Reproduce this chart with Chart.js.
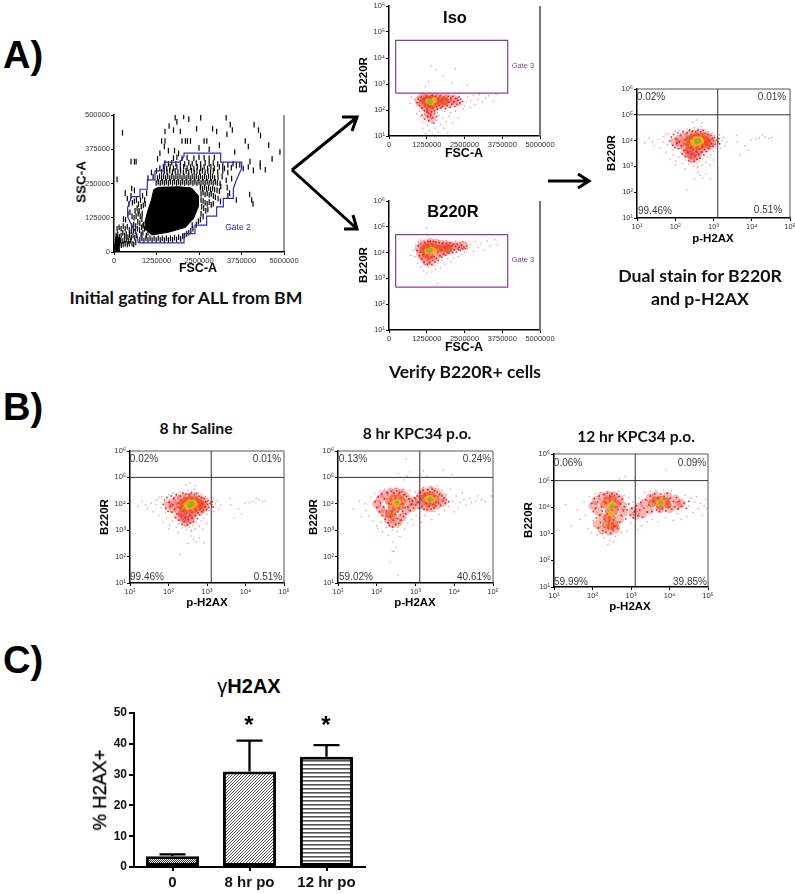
<!DOCTYPE html>
<html><head><meta charset="utf-8">
<script src="https://cdn.jsdelivr.net/npm/chart.js@4"></script>
<style>
html,body{margin:0;padding:0;background:#fff;overflow:hidden}
#page{position:relative;width:795px;height:894px;overflow:hidden;background:#fff}
canvas{position:absolute;filter:blur(.35px)}
.t{position:absolute;white-space:nowrap;transform:translate(-50%,-50%);color:#000;font-family:"Liberation Sans",Arial,sans-serif}
.b{font-weight:bold}
.cap{font-family:Lato,"Open Sans",sans-serif;font-weight:bold;color:#111}
.pct{font-size:10px;color:#3a3a3a}
.v{transform:translate(-50%,-50%) rotate(-90deg)}
svg{position:absolute;left:0;top:0}
</style></head><body><div id="page"></div>
<script>
/* ---------- bar chart values ---------- */
const barCategories=["0","8 hr po","12 hr po"];
const barValues=[3.5,31,35.8];
const barErrorTops=[4.1,41,39.6];
/* ---------- gating plot, values in thousands ---------- */
const gate2=[716,33,2059,33,2059,67,2382,67,2382,98,2725,98,2725,131,3020,131,3020,165,3216,165,3216,196,3510,196,3510,232,3608,265,3755,306,3755,328,3137,328,3137,361,2059,361,2059,348,1941,328,1480,328,1480,296,1206,296,1206,263,980,263,980,229,765,229,765,202,520,202,402,163,402,128,520,98,667,67,716,33];
const gatingCore=[930,80,910,110,980,145,1100,190,1170,228,1300,236,1900,238,2280,234,2480,205,2480,165,2340,122,2100,90,1600,72,1100,62];
const gatingCorner=[40,5,130,5,150,25,170,50,40,48];
const gatingMarks=[
1800,490,1850,475,2050,495,2200,485,2550,490,3300,490,4120,465,3420,465,1620,460,1500,440,1750,445,1950,440,2430,450,2900,450,3020,440,3320,430,3480,445,4250,445,4310,425,
1400,405,1500,405,2000,405,2100,405,2160,405,2250,405,2650,405,2730,405,3860,405,3950,385,4550,390,4880,365,4650,340,4300,325,4000,330,3600,315,3800,305,4450,300,250,435,90,265,500,330,600,330,650,330,1480,385,1600,370,1780,370,1900,360,1350,360,1280,340,2500,380,2800,375,3100,390,3550,365,
1750,343,1850,346,2000,342,2150,345,2350,342,2500,346,2650,344,2800,342,2950,345,
1500,325,1600,322,1700,326,1820,322,1950,325,2080,321,2200,326,2300,322,2420,325,2550,321,2680,326,2800,322,2920,325,3050,321,3200,316,3350,318,3500,322,3700,318,
1350,306,1450,310,1550,305,1650,311,1750,306,1850,310,1950,305,2050,311,2150,306,2250,310,2350,305,2450,311,2550,306,2650,310,2750,305,2850,311,2950,306,3100,310,3250,305,3450,308,3950,310,4100,298,4300,310,
1100,290,1250,296,1400,292,1480,296,1560,291,1640,297,1720,291,1800,296,1880,291,1960,297,2040,291,2120,296,2200,291,2280,297,2360,291,2440,296,2520,291,2600,297,2680,291,2760,296,2840,291,2920,297,3050,292,3200,296,3350,290,
1000,270,1150,275,1280,270,1340,276,1400,270,1460,276,1520,270,1580,276,1640,270,1700,276,1760,270,1820,276,1880,270,1940,276,2000,270,2060,276,2120,270,2180,276,2240,270,2300,276,2360,270,2420,276,2480,270,2540,276,2600,270,2660,276,2720,270,2780,276,2840,270,2900,276,2960,270,3060,272,3180,275,3300,262,3460,268,
1240,252,1300,256,1360,252,1420,256,1480,252,1540,256,1600,252,1660,256,1720,252,1780,256,1840,252,1900,256,1960,252,2020,256,2080,252,2140,256,2200,252,2260,256,2320,252,2380,256,2440,252,2500,256,2560,252,2620,256,2680,252,2740,256,2800,252,2860,256,2920,252,2980,256,3040,252,3120,250,3140,238,3330,235,3350,205,3400,215,3600,190,3990,210,4050,190,4090,175,
2540,235,2600,232,2660,236,2720,230,2780,234,2840,228,2900,232,2960,228,3030,226,3100,222,2560,212,2620,216,2680,210,2740,214,2800,208,2860,212,2920,205,2980,200,3060,195,3130,185,2560,190,2620,186,2680,180,2740,176,2800,182,2860,172,2920,176,2580,165,2640,160,2700,150,2760,155,2560,140,2620,130,2480,112,2540,118,2420,100,2300,98,
520,232,600,225,500,205,330,215,390,195,440,175,540,180,600,185,660,190,720,175,780,190,840,205,900,190,960,215,620,150,680,160,740,150,800,165,860,170,920,175,280,120,340,118,410,140,470,145,530,130,590,125,650,130,710,140,770,130,830,140,520,95,580,100,640,95,700,110,760,105,820,120,
90,85,150,90,210,85,270,95,330,85,390,92,450,80,510,75,570,80,630,75,690,85,750,80,810,90,870,100,
60,60,110,65,160,55,210,60,260,70,310,60,360,65,410,55,460,62,510,52,560,60,610,52,660,60,
20,20,40,35,65,25,90,40,115,22,140,45,165,30,190,42,215,25,240,40,270,28,300,42,330,30,360,45,390,28,420,40,450,30,480,42,530,30,580,28,640,35,
30,8,55,12,80,6,105,15,130,10,155,8,50,45,75,55,100,48,
760,45,820,50,880,42,940,50,1000,44,1060,50,1120,44,1180,50,1240,44,1300,50,1360,44,1420,50,1480,44,1540,50,1600,44,1660,50,1720,45,1780,52,1840,46,1900,54,1960,48,2020,58,2080,60,2140,66,2200,70,2260,78,2320,85,
800,65,850,70,900,85,850,95,950,60,1000,70
];
/* ---------- flow clouds: log10 x, log10 y pairs; Iso and B220R x in FSC-A millions ---------- */
const isoSparse=[.85,2.4,.9,2.15,.95,2.5,1,1.95,1,2.3,1.05,1.75,1.1,2.05,1.1,1.55,1.12,1.3,1.18,1.85,1.2,1.1,1.25,1.6,1.28,1.4,1.3,1.95,1.35,1.2,1.38,1.7,1.42,1.5,1.45,1.05,1.5,1.85,1.52,1.3,1.58,1.6,1.62,1.15,1.65,1.8,1.7,1.45,1.78,1.7,1.82,1.3,1.85,1.95,1.9,1.55,1.95,1.12,2,1.75,2.05,1.9,2.1,1.5,2.2,1.95,2.3,1.7,2.45,2.05,2.55,2.3,2.6,2.5,2.7,2.35,2.8,2.55,2.85,2.2,2.95,2.4,3,2.6,3.1,2.3,3.2,2.45,3.3,2.55,3.45,2.35,3.55,2.6,1.3,3.1,1.8,3.3,2.6,2.95,1.2,2.9,2.1,3.05,1.4,3.7,1.55,3.55,2.2,3.6,.7,2.25,.75,2.5,1.6,2.62,1.1,2.65,1.95,2.63,2.3,2.62,1.05,2.45,1.25,1.8,1.4,1.65,1.6,1.9,1.75,2,.92,1.85,1.15,1.7,2.4,2.2,2.5,2.15,2.7,2.1];
const isoDense=[.93,2.28,.97,2.42,1.01,2.17,1.04,2.36,1.07,2.52,1.09,2.08,1.12,2.28,1.15,2.44,1.17,1.98,1.2,2.16,1.23,2.53,1.26,2.03,1.29,2.2,1.31,1.88,1.33,2.5,1.37,2.12,1.4,1.93,1.43,2.56,1.45,2.07,1.48,2.25,1.51,1.97,1.54,2.52,1.57,2.14,1.6,2.03,1.63,2.43,1.66,2.18,1.69,2.54,1.72,2.08,1.75,2.38,1.78,2.14,1.81,2.5,1.84,2.22,1.87,2.05,1.9,2.42,1.93,2.17,1.96,2.52,1.99,2.3,2.02,2.1,2.05,2.44,2.08,2.22,2.11,2.52,2.15,2.32,2.18,2.13,2.21,2.44,2.25,2.22,2.28,2.37,2.32,2.5,2.35,2.27,2.38,2.42,2.43,2.33,1.1,1.8,1.18,1.65,1.25,1.92,1.32,1.58,1.38,1.82,1.45,1.7,1.52,1.88,1.58,1.75,1.28,1.75,1.48,1.5];
const isoMid=[1,2.35,1.1,2.5,1.1,2.2,1.22,2.45,1.22,2.1,1.35,2.5,1.35,2,1.5,2.48,1.5,2.1,1.65,2.45,1.65,2.2,1.8,2.45,1.8,2.25,1.95,2.45,2,2.25,2.15,2.42,2.25,2.3,1.3,1.85,1.4,1.7];
const isoHot=[1.2,2.35,1.28,2.4,1.28,2.22,1.42,2.42,1.42,2.2,1.55,2.35,1.68,2.35,1.85,2.35];
const isoWarm=[1.3,2.33,1.42,2.3,1.5,2.38];
const isoCore=[1.32,2.3,1.38,2.33];
const b220Sparse=[.8,4.1,.85,3.85,.88,4.3,.95,3.6,.98,4.4,1,3.95,1.05,3.45,1.1,3.72,1.15,3.3,1.2,3.55,1.25,3.2,1.3,3.45,1.35,3.6,1.42,3.25,1.5,3.5,1.55,3.35,1.62,3.6,1.7,3.4,1.75,3.7,1.85,3.55,1.95,3.75,2.05,3.65,2.15,3.8,2.3,3.85,2.4,3.95,2.6,4.15,2.7,4.3,2.8,4.05,2.85,4.4,2.95,4.2,3.05,4.35,3.15,4.1,3.25,4.45,3.35,4.25,3.5,4.5,3.6,4.3,1.35,4.55,1.6,4.5,1.9,4.48,1.25,4.95,1.6,2.8,2.45,4.42,2.55,4.35,2.2,4.45,1.05,4.5,.72,3.9,2.5,4.0,2.65,4.22];
const b220Dense=[.93,4.08,.97,4.26,1,3.88,1.03,4.02,1.06,4.34,1.08,3.76,1.11,4.16,1.14,3.92,1.16,3.62,1.19,4.38,1.21,3.84,1.24,4.03,1.27,3.55,1.29,4.43,1.31,3.76,1.34,3.62,1.37,4.44,1.39,3.82,1.42,3.53,1.44,3.7,1.47,4.42,1.49,3.85,1.52,3.64,1.55,4.4,1.57,3.78,1.6,4.02,1.63,3.7,1.66,4.38,1.69,3.88,1.72,4.1,1.75,3.82,1.78,4.36,1.81,3.95,1.84,4.22,1.87,3.9,1.9,4.35,1.93,4.02,1.96,4.28,1.99,3.98,2.02,4.36,2.05,4.06,2.08,4.26,2.11,4.0,2.14,4.32,2.17,4.1,2.2,4.24,2.23,4.02,2.26,4.32,2.29,4.12,2.32,4.2,2.36,4.08,2.4,4.28,2.44,4.14,2.48,4.22,2.53,4.16,2.58,4.26];
const b220Mid=[1,4.15,1.05,3.95,1.1,4.3,1.15,3.8,1.25,4.35,1.25,3.65,1.4,4.38,1.4,3.7,1.55,4.35,1.55,3.85,1.7,4.32,1.7,4.0,1.85,4.3,1.85,4.05,2,4.28,2,4.1,2.15,4.25,2.3,4.25,2.45,4.28];
const b220Hot=[1.15,4.1,1.22,4.2,1.22,3.95,1.35,4.25,1.35,3.9,1.5,4.2,1.62,4.15,1.78,4.18,1.95,4.18];
const b220Warm=[1.27,4.05,1.4,4.12,1.5,4.05];
const b220Core=[1.3,4.07,1.38,4.1];
const salineSparse=[1.2,3.9,1.32,4.1,1.45,3.8,1.55,4.02,1.6,3.7,1.68,3.95,1.7,4.15,1.75,3.55,1.8,3.85,1.82,4.28,1.86,3.3,1.9,4.05,1.92,3.65,1.95,3.45,2,4.35,2.02,3.2,2.05,3.7,2.1,3.35,2.12,4.4,2.15,3.55,2.2,3.1,2.22,4.38,2.28,3.25,2.3,4.45,2.35,3.08,2.4,4.42,2.42,3.18,2.48,3.02,2.5,4.5,2.55,3.12,2.58,2.95,2.6,4.48,2.62,3.2,2.68,4.55,2.7,3.05,2.72,3.3,2.78,4.42,2.8,3.15,2.85,3.35,2.88,4.35,2.92,3.45,2.96,4.28,3,3.6,3.02,4.2,3.05,3.75,3.1,4.1,3.12,3.9,3.16,4.22,3.18,3.7,3.22,4.0,3.26,4.12,3.3,3.8,3.35,3.95,3.6,4.2,3.62,3.95,3.82,3.8,3.9,3.62,3.98,4.02,4.1,4.05,4.2,4.1,4.28,4.22,4.35,4.15,4.45,4.08,4.52,4.12,2.6,2.78,2.5,2.5,2.92,2.52,2.3,2.08,2.72,2.55,2.65,2.65,2.8,2.7,2.45,4.72,2.55,4.8,2.7,4.68,3.7,3.45,1.4,3.95,1.75,4.25,2,3.05,2.6,3.0,2.25,2.9,2.9,3.05,3,3.25];
const salineDense=[1.86,3.98,1.9,4.14,1.93,3.82,1.96,4.24,1.99,3.72,2.02,4.06,2.04,3.9,2.07,4.3,2.09,3.68,2.11,3.96,2.14,4.22,2.16,3.8,2.18,3.48,2.2,4.34,2.22,3.62,2.25,4.02,2.27,3.38,2.29,3.86,2.31,4.3,2.33,3.56,2.35,3.22,2.37,4.4,2.39,3.72,2.41,3.34,2.43,3.48,2.45,4.36,2.47,3.64,2.49,3.2,2.51,3.4,2.53,4.34,2.55,3.58,2.57,3.28,2.59,4.4,2.61,3.46,2.63,3.68,2.65,3.32,2.67,4.34,2.69,3.56,2.71,3.74,2.73,4.4,2.75,3.44,2.77,3.66,2.79,4.28,2.81,3.58,2.83,3.82,2.85,4.24,2.87,3.7,2.89,4.02,2.91,3.76,2.93,4.2,2.95,3.88,2.97,4.08,2.99,3.78,3.01,3.98,3.03,4.12,3.05,3.86,3.08,4.02,3.12,3.96,3.14,4.08,3.16,3.88];
const salineMid=[2,3.95,2.1,4.05,2.12,3.85,2.22,4.15,2.24,3.75,2.35,4.22,2.35,3.65,2.5,4.25,2.5,3.62,2.65,4.27,2.65,3.65,2.8,4.18,2.9,4.1,2.95,3.95,2.9,3.82,2.8,3.72,2.3,3.5,2.42,3.42,2.55,3.4,2.45,3.3,2.6,3.52,2.36,3.55];
const salineHot=[2.3,3.95,2.38,4.05,2.46,4.12,2.56,4.15,2.68,4.14,2.78,4.05,2.84,3.95,2.76,3.86,2.64,3.8,2.5,3.78,2.38,3.82];
const salineWarm=[2.46,3.95,2.54,4.06,2.64,4.05,2.68,3.98,2.5,3.88,2.6,3.9];
const salineCore=[2.54,3.98,2.6,4.02,2.56,3.94,2.62,3.98];
const h8Sparse=[1.4,3.8,1.55,4.1,1.6,3.5,1.7,4,1.72,3.75,1.8,3.55,1.85,4.25,1.9,3.35,1.95,4.4,2,3.15,2.03,3.05,2.08,4.5,2.12,3.3,2.15,2.95,2.2,4.55,2.25,3.1,2.3,2.8,2.35,4.6,2.4,3.0,2.42,2.55,2.45,2.2,2.5,4.58,2.52,2.95,2.55,3.1,2.6,2.75,2.68,4.55,2.72,3.05,2.8,3.25,2.85,4.5,2.9,3.4,2.95,3.2,3,4.45,3.02,3.55,3.1,3.45,3.15,3.3,3.2,4.62,3.25,3.55,3.3,3.7,3.4,4.65,3.42,3.4,3.5,3.7,3.55,4.68,3.6,3.6,3.7,4.5,3.75,3.75,3.8,4.35,3.85,3.9,3.9,4.55,3.95,4.1,4,3.7,4.05,4.3,4.1,3.85,4.15,4.05,4.2,4.4,4.25,4.15,4.3,3.95,4.4,4.2,4.45,4.05,4.55,4.1,4.6,4.3,4.7,4.15,4.8,4.08,4.95,4.3,2.75,5.7,2.85,5.2,2.78,5.05,2.7,4.9,2.55,5.15,3.2,5.25,3.3,5.05,3.72,5.3,2.4,2.2,2.5,2.35,2.35,1.8,2.55,1.3,3.95,5.1,4.1,5.0,2.6,3.3,3.05,4,3,4.15];
const h8Dense=[1.96,4.08,2,3.86,2.04,4.26,2.07,3.7,2.1,4.02,2.13,4.38,2.15,3.56,2.18,3.88,2.2,4.18,2.22,3.42,2.25,3.72,2.27,4.42,2.29,3.28,2.31,4.02,2.33,3.18,2.35,3.5,2.37,4.48,2.39,3.72,2.41,3.12,2.43,3.38,2.45,4.4,2.47,3.6,2.49,3.22,2.51,4.5,2.53,3.44,2.55,3.7,2.57,3.26,2.59,4.42,2.61,3.58,2.63,3.38,2.65,4.46,2.67,3.72,2.69,3.52,2.71,4.34,2.73,3.86,2.75,3.62,2.77,4.28,2.8,3.88,2.83,4.18,2.86,3.74,2.89,3.98,2.92,4.1,2.95,3.84,2.98,4.22,3.01,3.96,3.04,4.3,3.07,4.06,3.1,3.84,3.12,4.42,3.15,4.16,3.17,3.9,3.2,4.52,3.22,3.8,3.25,4.38,3.27,4.02,3.3,3.78,3.32,4.54,3.35,3.9,3.37,4.46,3.4,3.8,3.43,4.56,3.45,3.98,3.48,3.84,3.5,4.5,3.53,3.92,3.56,4.44,3.59,4.02,3.62,4.36,3.65,3.94,3.68,4.3,3.71,4.1,3.74,4.22,3.77,4.02,3.8,4.16,3.86,4.08];
const h8Mid=[2,4.0,2.1,4.2,2.1,3.8,2.2,4.35,2.2,3.65,2.3,3.4,2.35,4.42,2.4,3.25,2.5,4.45,2.55,3.3,2.65,4.4,2.65,3.5,2.75,4.25,2.75,3.75,2.85,4.05,2.9,3.85,3.1,4.15,3.15,4.35,3.1,3.95,3.22,4.45,3.25,3.9,3.4,4.5,3.4,3.85,3.55,4.42,3.55,3.95,3.68,4.25,3.7,4.05,2.95,4.1];
const h8Hot=[2.32,4.1,2.42,4.2,2.55,4.22,2.65,4.1,2.62,3.92,2.5,3.8,2.38,3.85,2.32,3.6,2.42,3.55,3.22,4.2,3.3,4.3,3.42,4.3,3.52,4.18,3.45,4.05,3.3,4.05];
const h8Warm=[2.46,4.05,2.55,4.08,2.5,3.95,3.3,4.18,3.38,4.22,3.44,4.15];
const h8Core=[2.52,4.05,3.36,4.17,3.4,4.17];
const h12Sparse=[1.3,4.1,1.45,3.3,1.6,3.9,1.68,3.55,1.78,4.2,1.82,3.7,1.88,3.2,1.92,4.4,1.98,3.05,2.02,3.5,2.08,4.5,2.12,2.95,2.2,4.55,2.25,3.0,2.3,2.85,2.38,4.6,2.45,2.75,2.55,4.55,2.6,2.9,2.68,4.6,2.75,3.05,2.82,4.45,2.9,3.1,2.95,4.35,3,3.4,3.05,4.2,3.1,3.3,3.18,3.15,3.2,4.35,3.28,3.3,3.35,4.55,3.42,3.45,3.5,4.6,3.55,3.55,3.65,4.62,3.7,3.45,3.85,4.65,3.9,3.6,4.05,4.62,4.1,3.5,4.2,3.75,4.3,3.55,4.4,4.45,4.45,3.65,4.5,4.05,4.55,4.35,4.6,3.8,4.65,4.2,4.7,4.4,4.75,3.95,4.8,4.15,4.85,3.7,4.9,4.05,4.95,4.3,4.98,3.95,2.85,5.15,2.7,5.05,3.9,5.4,3.1,5.1,2.4,2.6,2.55,2.7];
const h12Dense=[1.98,4.14,2.02,3.84,2.05,4.32,2.08,3.96,2.1,3.6,2.13,4.2,2.15,3.22,2.17,4.42,2.19,3.7,2.21,3.42,2.23,4.02,2.25,3.86,2.27,3.12,2.29,4.48,2.31,3.54,2.33,4.2,2.35,3.06,2.37,3.74,2.39,4.52,2.41,3.2,2.43,3.46,2.45,4.42,2.47,3.02,2.49,3.68,2.51,4.5,2.53,3.14,2.55,3.52,2.57,4.44,2.59,3.28,2.61,3.74,2.63,4.5,2.65,3.2,2.67,3.92,2.69,4.4,2.71,3.44,2.73,4.12,2.75,3.7,2.77,4.3,2.8,3.86,2.83,4.02,2.86,3.56,2.9,3.9,2.94,4.12,2.98,3.7,3.02,3.96,3.06,3.6,3.1,3.84,3.14,4.06,3.18,3.68,3.22,3.9,3.26,4.18,3.3,3.62,3.34,3.96,3.38,4.28,3.42,3.82,3.46,4.08,3.5,4.42,3.54,3.84,3.58,4.22,3.62,4.5,3.66,3.9,3.7,4.36,3.74,3.84,3.78,4.5,3.82,3.94,3.86,4.4,3.9,3.86,3.94,4.52,3.98,4.0,4.02,4.34,4.06,3.92,4.1,4.22,4.14,4.02,4.18,4.36,4.22,3.94,4.26,4.22,4.32,4.04,4.38,4.16,4.44,3.96,4.5,4.22];
const h12Mid=[2.02,4.05,2.1,4.25,2.15,3.85,2.12,3.35,2.25,4.4,2.25,3.6,2.25,3.15,2.4,4.45,2.45,3.1,2.55,4.42,2.6,3.2,2.7,4.3,2.7,3.55,2.78,4.05,2.8,3.8,3.05,3.85,3.12,3.7,3.2,4.0,3.3,3.75,3.35,4.15,3.48,3.9,3.5,4.35,3.65,4.42,3.75,3.95,3.95,4.42,4,3.95,4.15,4.3,4.2,4.05,4.3,4.15];
const h12Hot=[2.3,4.1,2.38,4.25,2.52,4.28,2.62,4.12,2.58,3.9,2.42,3.85,2.38,3.6,2.5,3.6,2.35,3.35,2.48,3.3,2.58,3.35,3.55,4.15,3.65,4.25,3.78,4.28,3.92,4.22,3.95,4.1,3.75,4.05];
const h12Warm=[2.45,4.05,2.52,4.12,2.48,3.75,3.72,4.17,3.82,4.18];
const h12Core=[2.5,4.03,3.78,4.17];
const pctSaline=["0.02%","0.01%","99.46%","0.51%"];
const pct8h=["0.13%","0.24%","59.02%","40.61%"];
const pct12h=["0.06%","0.09%","59.99%","39.85%"];
const fscTicks=[0,1250000,2500000,3750000,5000000];
const sscTicks=[0,125000,250000,375000,500000];
const yDecades=[10,100,1000,10000,100000,1000000];
const xDecades=[10,100,1000,10000,100000];
const isoGate=[.22,2.65,3.93,2.65,3.93,4.68,.22,4.68,.22,2.65];
const b220Gate=[.22,2.66,3.93,2.66,3.93,4.7,.22,4.7,.22,2.66];

const page=document.getElementById('page');
const SUP={1:'\u00b9',2:'\u00b2',3:'\u00b3',4:'\u2074',5:'\u2075',6:'\u2076'};
function expLabel(v){return '10'+SUP[Math.round(Math.log10(v))];}
function text(s,x,y,cls,size,extra){const d=document.createElement('div');d.className='t '+(cls||'');d.textContent=s;d.style.left=x+'px';d.style.top=y+'px';if(size)d.style.fontSize=size+'px';if(extra)Object.assign(d.style,extra);page.appendChild(d);return d;}
const pts=(a,fx,fy)=>{const o=[];for(let i=0;i<a.length;i+=2)o.push({x:fx(a[i]),y:fy(a[i+1])});return o;};
const p10=v=>Math.pow(10,v), mil=v=>v*1e6, th=v=>v*1000;

const framePlugin={id:'frame',afterDatasetsDraw(c,a,o){const k=c.chartArea,g=c.ctx;g.save();g.strokeStyle=o.color||'#555';g.lineWidth=o.width||1;
 g.beginPath();if(o.right){g.moveTo(k.right,k.top);g.lineTo(k.right,k.bottom);}if(o.top){g.moveTo(k.left,k.top);g.lineTo(k.right,k.top);}g.stroke();
 if(o.qx){g.beginPath();g.strokeStyle=o.qcolor||'#444';const X=c.scales.x.getPixelForValue(o.qx),Y=c.scales.y.getPixelForValue(o.qy);g.moveTo(X,k.top);g.lineTo(X,k.bottom);g.moveTo(k.left,Y);g.lineTo(k.right,Y);g.stroke();}
 g.restore();}};

function panel(box,xs,ys,datasets,frame,tf){
 const L=box.x-34,T=box.y-8,RP=18,BP=16;
 const cv=document.createElement('canvas');cv.width=box.w+34+RP;cv.height=box.h+8+BP;cv.style.left=L+'px';cv.style.top=T+'px';page.appendChild(cv);
 datasets.forEach((d,i)=>{d.order=datasets.length-i;d.parsing=false;d.normalized=false;});
 const axis=(extra,tick)=>Object.assign({grid:{display:true,drawOnChartArea:false,drawTicks:true,tickLength:3,color:'#000',lineWidth:1},border:{display:true,color:'#000',width:1.5},
   ticks:{autoSkip:false,maxRotation:0,minRotation:0,padding:1,color:'#333',font:{family:'"Liberation Sans",Arial,sans-serif',size:tf||7.5},callback:tick}},extra);
 new Chart(cv,{type:'scatter',data:{datasets},plugins:[framePlugin],options:{responsive:false,animation:false,events:[],layout:{padding:{top:8,right:RP,left:0,bottom:0}},
  plugins:{legend:{display:false},tooltip:{enabled:false},title:{display:false},frame},
  scales:{x:axis(Object.assign(xs,{afterFit(s){s.height=BP;},afterBuildTicks(s){s.ticks=xs.tk.map(v=>({value:v}));}}),xs.lab),
          y:axis(Object.assign(ys,{afterFit(s){s.width=34;},afterBuildTicks(s){s.ticks=ys.tk.map(v=>({value:v}));}}),ys.lab)}}});
}
const linX=(tk,max)=>({type:'linear',min:0,max,tk,lab:v=>String(v)});
const logY=()=>({type:'logarithmic',min:10,max:1e6,tk:yDecades,lab:expLabel});
const logX=()=>({type:'logarithmic',min:10,max:1e5,tk:xDecades,lab:expLabel});
function cloud(sp,dense,mid,hot,warm,core,fx,fy){
 const s=(a,r,c)=>({data:pts(a,fx,fy),pointRadius:r,pointBackgroundColor:c,pointBorderWidth:0,showLine:false});
 return [s(mid,4.6,'rgba(232,48,42,.34)'),s(sp,.75,'rgba(225,50,50,.55)'),s(dense,.95,'rgba(215,25,25,.85)'),s(hot,4,'rgba(238,70,22,.62)'),s(warm,3,'rgba(248,175,30,.85)'),s(core,2.3,'rgba(150,175,40,.95)')];
}
/* Gating plot */
panel({x:114,y:115,w:170,h:137},linX(fscTicks,5e6),Object.assign(linX(sscTicks,5e5)),[
 {data:pts(gatingCore,th,th),showLine:true,fill:'shape',backgroundColor:'#000',borderColor:'#000',borderWidth:1,pointRadius:0},
 {data:pts(gatingCorner,th,th),showLine:true,fill:'shape',backgroundColor:'#000',borderColor:'#000',borderWidth:1,pointRadius:0},
 {data:pts(gatingMarks,th,th),pointStyle:'line',rotation:90,pointRadius:2.8,pointBorderWidth:1.2,pointBorderColor:'#000',showLine:false},
 {data:pts(gate2,th,th),showLine:true,fill:false,borderColor:'#2b2bc0',borderWidth:1.2,pointRadius:0}
],{right:true,color:'#333',width:1});
/* Iso */
panel({x:389,y:6,w:151,h:130},linX(fscTicks,5e6),logY(),cloud(isoSparse,isoDense,isoMid,isoHot,isoWarm,isoCore,mil,p10).concat([
 {data:pts(isoGate,mil,p10),showLine:true,fill:false,borderColor:'#8e3d96',borderWidth:1.2,pointRadius:0}]),{right:true,color:'#777',width:2});
/* B220R */
panel({x:389,y:201,w:151,h:129},linX(fscTicks,5e6),logY(),cloud(b220Sparse,b220Dense,b220Mid,b220Hot,b220Warm,b220Core,mil,p10).concat([
 {data:pts(b220Gate,mil,p10),showLine:true,fill:false,borderColor:'#8e3d96',borderWidth:1.2,pointRadius:0}]),{right:true,color:'#777',width:2});
/* Dual stain */
const quad={right:true,top:true,color:'#555',width:1,qx:1290,qy:1e5,qcolor:'#333'};
panel({x:637,y:89,w:153,h:129},logX(),logY(),cloud(salineSparse,salineDense,salineMid,salineHot,salineWarm,salineCore,p10,p10),quad);
panel({x:130,y:451,w:154,h:132},logX(),logY(),cloud(salineSparse,salineDense,salineMid,salineHot,salineWarm,salineCore,p10,p10),quad);
panel({x:338,y:451,w:155,h:132},logX(),logY(),cloud(h8Sparse,h8Dense,h8Mid,h8Hot,h8Warm,h8Core,p10,p10),quad);
panel({x:554,y:454,w:154,h:133},logX(),logY(),cloud(h12Sparse,h12Dense,h12Mid,h12Hot,h12Warm,h12Core,p10,p10),quad);

/* Bar chart with hatched fills */
function pat(w,h,draw){const c=document.createElement('canvas');c.width=w;c.height=h;const g=c.getContext('2d');g.fillStyle='#fff';g.fillRect(0,0,w,h);draw(g);return g.createPattern(c,'repeat');}
const barFills=[
 pat(2,2,g=>{g.fillStyle='#333';g.fillRect(0,0,1,1);g.fillRect(1,1,1,1);}),
 pat(3,3,g=>{g.fillStyle='#555';g.fillRect(2,0,1,1);g.fillRect(1,1,1,1);g.fillRect(0,2,1,1);}),
 pat(4,4,g=>{g.fillStyle='#555';g.fillRect(0,1,4,1.6);})
];
const errPlugin={id:'err',afterDatasetsDraw(c){const m=c.getDatasetMeta(0),y=c.scales.y,g=c.ctx;g.save();g.strokeStyle='#000';g.lineWidth=2.3;
 m.data.forEach((b,i)=>{const t=y.getPixelForValue(barErrorTops[i]),base=y.getPixelForValue(barValues[i]);g.beginPath();g.moveTo(b.x,base);g.lineTo(b.x,t);g.moveTo(b.x-13,t);g.lineTo(b.x+13,t);g.stroke();});g.restore();}};
{const cv=document.createElement('canvas');cv.width=276;cv.height=191;cv.style.left='94px';cv.style.top='703px';page.appendChild(cv);
 new Chart(cv,{type:'bar',data:{labels:barCategories,datasets:[{data:barValues,backgroundColor:barFills,borderColor:'#000',borderWidth:3,borderSkipped:false,barPercentage:.69,categoryPercentage:1}]},plugins:[errPlugin],
 options:{responsive:false,animation:false,events:[],layout:{padding:{top:10,right:5}},plugins:{legend:{display:false},tooltip:{enabled:false}},
 scales:{x:{grid:{display:true,drawOnChartArea:false,offset:false,tickLength:4,color:'#000',lineWidth:2,drawTicks:true},border:{display:true,color:'#000',width:2},ticks:{color:'#111',padding:3,font:{family:'"Liberation Sans",Arial,sans-serif',size:15,weight:'bold'}},afterFit(s){s.height=27;}},
  y:{min:0,max:50,grid:{display:true,drawOnChartArea:false,tickLength:5,color:'#000',lineWidth:2},border:{display:true,color:'#000',width:2},ticks:{stepSize:10,color:'#111',padding:2,font:{family:'"Liberation Sans",Arial,sans-serif',size:12,weight:'bold'}},afterFit(s){s.width=40;}}}}});
}

/* Section letters */
text('A)',23,55,'b',38);text('B)',23,407,'b',38);text('C)',23,660,'b',38);
/* Panel text */
text('SSC-A',81,182,'b v',13.5);text('FSC-A',198,268,'b',12.5);
text('Gate 2',238,227,'',8.5,{color:'#2b2bc0'});
text('Initial gating for ALL from BM',186,297,'cap',17.7);
text('Iso',455,17,'b',16.5);text('B220R',363,75,'b v',11.5);text('FSC-A',464,153,'b',12.5);text('Gate 3',523,65,'',7.5,{color:'#8e3d96'});
text('B220R',453,211,'b',16.5);text('B220R',363,265,'b v',11.5);text('FSC-A',464,347,'b',12.5);text('Gate 3',523,259,'',7.5,{color:'#8e3d96'});
text('Verify B220R+ cells',465,371,'cap',17.5);
text('B220R',611,153,'b v',11.5);text('p-H2AX',713,238,'b',11.5);
text('Dual stain for B220R',700,275,'cap',17.7);text('and p-H2AX',700,298,'cap',17.7);
function pct(list,pos){list.forEach((s,i)=>text(s,pos[i*2],pos[i*2+1],'pct'));}
pct(pctSaline,[651,96,772,96,655,210,768,209]);
pct(pctSaline,[144,458,267,458,147,576,268,576]);
pct(pct8h,[353,458,477,458,356,576,474,576]);
pct(pct12h,[568,462,692,462,571,581,690,581]);
text('8 hr Saline',196,427,'cap',15.8);text('8 hr KPC34 p.o.',417,433,'cap',15.6);text('12 hr KPC34 p.o.',636,436,'cap',15.6);
text('B220R',104,517,'b v',11.5);text('B220R',313,517,'b v',11.5);text('B220R',528,520,'b v',11.5);
text('p-H2AX',207,602,'b',11.5);text('p-H2AX',415,602,'b',11.5);text('p-H2AX',630,606,'b',11.5);
/* Bar chart text */
{const d=text('',249,686,'b',20);const g=document.createElement('span');g.textContent='\u03b3';g.style.fontWeight='normal';d.appendChild(g);d.appendChild(document.createTextNode('H2AX'));}
text('% H2AX+',100,790,'v',18.5,{webkitTextStroke:'.3px #000'});
text('*',249,725,'b',24);text('*',326,725,'b',24);
/* Arrows */
const ns='http://www.w3.org/2000/svg',svg=document.createElementNS(ns,'svg');svg.setAttribute('width','795');svg.setAttribute('height','894');
svg.innerHTML='<g stroke="#000" stroke-width="3" fill="none"><path d="M292 170L356 118M342 117L357 117L352 131"/><path d="M292 170L356 228M344 229L357 229L353 215"/><path d="M548 181L588 181M578 174L589 181L578 188"/></g>';
page.appendChild(svg);
</script></body></html>
